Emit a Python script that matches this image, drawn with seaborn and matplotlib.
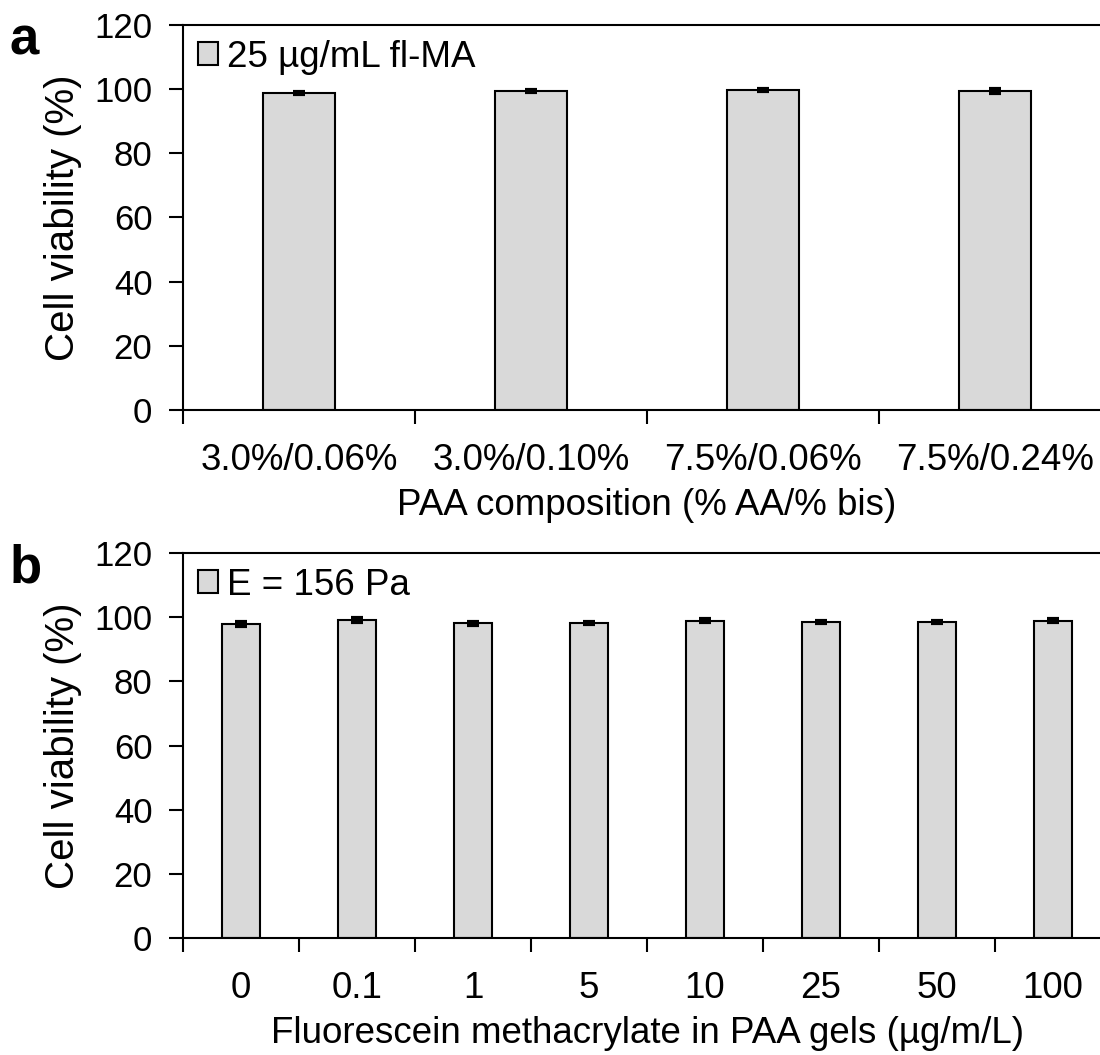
import numpy as np
import pandas as pd
import matplotlib
matplotlib.use("Agg")
import matplotlib.pyplot as plt
import seaborn as sns

# panel a: PAA composition
comp_labels = ['3.0%/0.06%', '3.0%/0.10%', '7.5%/0.06%', '7.5%/0.24%']
comp_viab = [98.9, 99.3, 99.6, 99.3]
comp_err = [0.3, 0.3, 0.3, 0.6]

# panel b: fluorescein methacrylate concentration
conc_labels = ['0', '0.1', '1', '5', '10', '25', '50', '100']
conc_viab = [98.0, 99.2, 98.1, 98.2, 98.9, 98.5, 98.5, 98.9]
conc_err = [0.6, 0.6, 0.4, 0.3, 0.4, 0.4, 0.3, 0.4]

BAR_COLOR = '#d9d9d9'

sns.set_theme(style='white')
plt.rcParams['font.family'] = ['Liberation Sans', 'DejaVu Sans']
plt.rcParams['text.color'] = 'black'
plt.rcParams['axes.labelcolor'] = 'black'
plt.rcParams['xtick.color'] = 'black'
plt.rcParams['ytick.color'] = 'black'

fig = plt.figure(figsize=(11, 10.55), dpi=100)


def draw_panel(ax, labels, vals, errs, legend_label, xlabel, width):
    df = pd.DataFrame({'group': labels, 'viability': vals})
    sns.barplot(data=df, x='group', y='viability', order=labels,
                color=BAR_COLOR, edgecolor='black', linewidth=1.5,
                width=width, errorbar=None, saturation=1,
                label=legend_label, ax=ax)
    ax.errorbar(np.arange(len(labels)), vals, yerr=errs, fmt='none',
                ecolor='black', elinewidth=2, capsize=4, capthick=3)
    ax.set_ylim(0, 120)
    ax.set_xlim(-0.5, len(labels) - 0.5)
    ax.set_yticks(range(0, 121, 20))
    ax.tick_params(axis='y', direction='out', length=10, width=1.5,
                   labelsize=25, pad=12, left=True)
    ax.tick_params(axis='x', which='major', length=0, labelsize=26.5, pad=24)
    ax.set_xticks(np.arange(len(labels) + 1) - 0.5, minor=True)
    ax.tick_params(axis='x', which='minor', direction='out', length=10,
                   width=1.5, bottom=True)
    for s in ['left', 'bottom', 'top']:
        ax.spines[s].set_visible(True)
        ax.spines[s].set_color('black')
        ax.spines[s].set_linewidth(1.5)
    ax.spines['right'].set_visible(False)
    ax.set_xlabel(xlabel, fontsize=26.5, labelpad=7)
    ax.set_ylabel('Cell viability (%)', fontsize=29, labelpad=9)
    ax.legend(loc='upper left', frameon=False, fontsize=26.5,
              handlelength=0.55, handleheight=0.6, handletextpad=0.25,
              borderaxespad=0.1, borderpad=0.3)


ax_a = fig.add_axes([0.1664, 0.6114, 0.8436, 0.3649])
draw_panel(ax_a, comp_labels, comp_viab, comp_err, '25 µg/mL fl-MA',
           'PAA composition (% AA/% bis)', 0.31)

ax_b = fig.add_axes([0.1664, 0.1109, 0.8436, 0.3649])
draw_panel(ax_b, conc_labels, conc_viab, conc_err, 'E = 156 Pa',
           'Fluorescein methacrylate in PAA gels (µg/m/L)', 0.32)

fig.text(0.009, 0.948, 'a', fontsize=38, fontweight='bold')
fig.text(0.009, 0.448, 'b', fontsize=38, fontweight='bold')

fig.savefig('out.png', dpi=100)
